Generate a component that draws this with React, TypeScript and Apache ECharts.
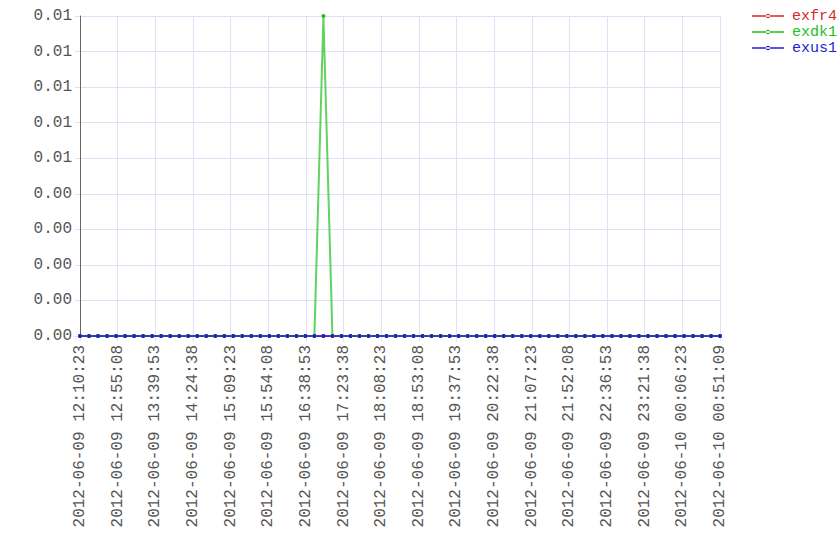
import React, { useEffect, useRef } from "react";
import * as echarts from "echarts";

const START = "2012-06-09 12:10:23";
const END = "2012-06-10 00:51:09";
const X_TICK_COUNT = 17;

const sampleTimes = [
  "12:10:23", "12:21:06", "12:31:49", "12:42:32", "12:53:15", "13:03:58", "13:14:41", "13:25:24",
  "13:36:07", "13:46:50", "13:57:33", "14:08:16", "14:18:59", "14:29:42", "14:40:25", "14:51:08",
  "15:01:51", "15:12:34", "15:23:17", "15:34:00", "15:44:43", "15:55:26", "16:06:09", "16:16:52",
  "16:27:35", "16:38:18", "16:49:01", "16:59:44", "17:10:27", "17:21:10", "17:31:53", "17:42:36",
  "17:53:19", "18:04:02", "18:14:45", "18:25:28", "18:36:11", "18:46:54", "18:57:37", "19:08:20",
  "19:19:03", "19:29:46", "19:40:29", "19:51:12", "20:01:55", "20:12:38", "20:23:21", "20:34:04",
  "20:44:47", "20:55:30", "21:06:13", "21:16:56", "21:27:39", "21:38:22", "21:49:05", "21:59:48",
  "22:10:31", "22:21:14", "22:31:57", "22:42:40", "22:53:23", "23:04:06", "23:14:49", "23:25:32",
  "23:36:15", "23:46:58", "23:57:41", "00:08:24", "00:19:07", "00:29:50", "00:40:33", "00:51:09",
];

const exfr4 = [
  0, 0, 0, 0, 0, 0, 0, 0, 0, 0, 0, 0, 0, 0, 0, 0, 0, 0, 0, 0, 0, 0, 0, 0,
  0, 0, 0, 0, 0, 0, 0, 0, 0, 0, 0, 0, 0, 0, 0, 0, 0, 0, 0, 0, 0, 0, 0, 0,
  0, 0, 0, 0, 0, 0, 0, 0, 0, 0, 0, 0, 0, 0, 0, 0, 0, 0, 0, 0, 0, 0, 0, 0,
];
const exdk1 = [
  0, 0, 0, 0, 0, 0, 0, 0, 0, 0, 0, 0, 0, 0, 0, 0, 0, 0, 0, 0, 0, 0, 0, 0,
  0, 0, 0, 0.009, 0, 0, 0, 0, 0, 0, 0, 0, 0, 0, 0, 0, 0, 0, 0, 0, 0, 0, 0, 0,
  0, 0, 0, 0, 0, 0, 0, 0, 0, 0, 0, 0, 0, 0, 0, 0, 0, 0, 0, 0, 0, 0, 0, 0,
];
const exus1 = [
  0, 0, 0, 0, 0, 0, 0, 0, 0, 0, 0, 0, 0, 0, 0, 0, 0, 0, 0, 0, 0, 0, 0, 0,
  0, 0, 0, 0, 0, 0, 0, 0, 0, 0, 0, 0, 0, 0, 0, 0, 0, 0, 0, 0, 0, 0, 0, 0,
  0, 0, 0, 0, 0, 0, 0, 0, 0, 0, 0, 0, 0, 0, 0, 0, 0, 0, 0, 0, 0, 0, 0, 0,
];

const seriesNames = ["exfr4", "exdk1", "exus1"];
const seriesColors = ["#d42a2a", "#1fbf1f", "#1e1ed2"];
const Y_MAX = 0.009;
const Y_INTERVAL = 0.001;

function parseFull(s: string): number {
  const [d, t] = s.split(" ");
  const [y, mo, da] = d.split("-").map(Number);
  const [h, mi, se] = t.split(":").map(Number);
  return Date.UTC(y, mo - 1, da, h, mi, se) / 1000;
}
const startSec = parseFull(START);
const endSec = parseFull(END);
const span = endSec - startSec;

function offsetOf(t: string): number {
  const [h, mi, se] = t.split(":").map(Number);
  let sec = h * 3600 + mi * 60 + se - (12 * 3600 + 10 * 60 + 23);
  if (sec < 0) sec += 86400;
  return sec;
}

function fmt(off: number): string {
  const d = new Date((startSec + Math.floor(off + 1e-6)) * 1000);
  const p = (n: number) => String(n).padStart(2, "0");
  return `${d.getUTCFullYear()}-${p(d.getUTCMonth() + 1)}-${p(d.getUTCDate())} ${p(d.getUTCHours())}:${p(d.getUTCMinutes())}:${p(d.getUTCSeconds())}`;
}

const LEGEND_ICON =
  "path://M0,9.3h32v1.4h-32z M13.8,10a2.2,2.2 0 1,0 4.4,0a2.2,2.2 0 1,0 -4.4,0z";

export default function App() {
  const ref = useRef<HTMLDivElement>(null);
  useEffect(() => {
    if (!ref.current) return;
    const chart = echarts.init(ref.current, undefined, { renderer: "svg" });
    const font = "'Liberation Mono', monospace";
    const data = [exfr4, exdk1, exus1];
    chart.setOption({
      animation: false,
      textStyle: { fontFamily: font },
      grid: { left: 80, right: 120, top: 16, bottom: 224, containLabel: false },
      legend: {
        orient: "vertical",
        left: 752,
        top: 8,
        padding: 0,
        itemWidth: 32,
        itemHeight: 4.4,
        itemGap: 0,
        icon: LEGEND_ICON,
        textStyle: { fontFamily: font, fontSize: 15, lineHeight: 16, padding: [0, 0, 0, 3] },
        data: seriesNames.map((n, i) => ({ name: n, textStyle: { color: seriesColors[i] } })),
      },
      xAxis: {
        type: "value",
        min: 0,
        max: span,
        interval: span / X_TICK_COUNT,
        axisLine: { show: true, lineStyle: { color: "#666", width: 1 } },
        axisTick: { show: true, length: 5, lineStyle: { color: "#e0e0f8" } },
        splitLine: { show: true, lineStyle: { color: "#e0e0f8", width: 1 } },
        axisLabel: {
          rotate: 90,
          margin: 9,
          fontFamily: font,
          fontSize: 16,
          color: "#555",
          showMinLabel: true,
          showMaxLabel: true,
          formatter: (v: number) => fmt(v),
        },
      },
      yAxis: {
        type: "value",
        min: 0,
        max: Y_MAX,
        interval: Y_INTERVAL,
        axisLine: { show: true, lineStyle: { color: "#666", width: 1 } },
        axisTick: { show: true, length: 5, lineStyle: { color: "#e0e0f8" } },
        splitLine: { show: true, lineStyle: { color: "#e0e0f8", width: 1 } },
        axisLabel: {
          margin: 8,
          fontFamily: font,
          fontSize: 16,
          color: "#555",
          formatter: (v: number) => v.toFixed(2),
        },
      },
      series: seriesNames.map((n, i) => ({
        name: n,
        type: "line",
        symbol: "circle",
        symbolSize: 4,
        showSymbol: true,
        color: seriesColors[i],
        itemStyle: { color: seriesColors[i] },
        lineStyle: { color: seriesColors[i], width: 2, opacity: 0.7 },
        data: sampleTimes.map((t, j) => [offsetOf(t), data[i][j]]),
      })),
    });
    return () => chart.dispose();
  }, []);
  return (
    <div
      ref={ref}
      style={{ position: "absolute", left: 0, top: 0, width: 840, height: 560 }}
    />
  );
}
